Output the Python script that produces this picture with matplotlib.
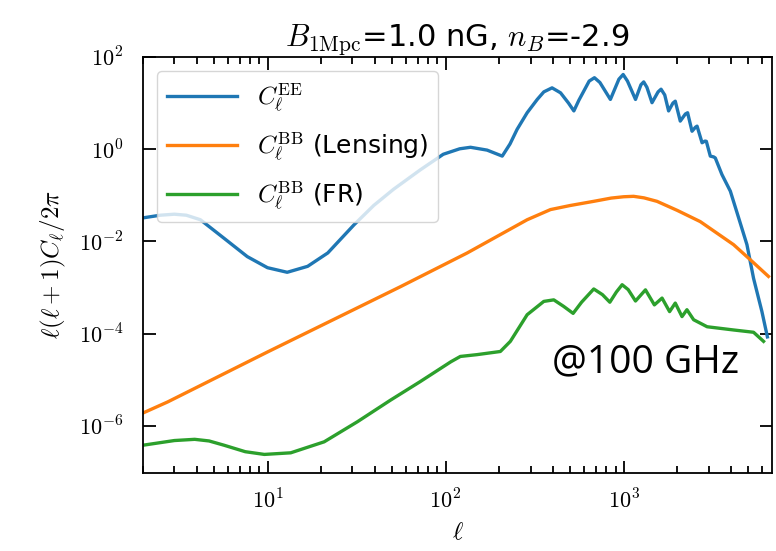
import matplotlib
matplotlib.use('Agg')
import matplotlib.pyplot as plt
import matplotlib.ticker as mticker
import numpy as np

plt.rcParams['mathtext.fontset'] = 'cm'
plt.rcParams['font.family'] = 'DejaVu Sans'

# E-mode spectrum
ell_ee = [2, 2.5, 3, 3.5, 4.2, 5.7, 7.7, 10, 12.9, 16.8, 21.8, 30.6, 39.5,
          51, 72, 97, 120, 138, 171, 208, 230, 252, 287, 327, 356, 396, 442,
          490, 525, 560, 640, 685, 735, 842, 940, 993, 1050, 1165, 1250, 1295,
          1350, 1442, 1560, 1621, 1700, 1787, 1890, 1948, 2078, 2220, 2285,
          2419, 2530, 2582, 2754, 2860, 2911, 3064, 3200, 3268, 3561, 3970,
          4420, 4920, 5360, 5970, 6410]
cl_ee = [0.0324, 0.037, 0.0389, 0.037, 0.0295, 0.0117, 0.00468, 0.00269,
         0.00214, 0.00288, 0.00562, 0.0229, 0.0603, 0.135, 0.355, 0.776,
         1.02, 1.10, 0.955, 0.708, 1.3, 2.69, 6.17, 12.0, 17.5, 21.4, 16.7,
         10.0, 6.76, 11.5, 30.0, 35.5, 28.0, 12.0, 33.0, 41.7, 30.0, 12.0,
         25.0, 28.8, 22.0, 10.2, 17.5, 20.0, 15.0, 6.76, 10.0, 11.0, 4.07,
         5.8, 6.17, 2.45, 3.0, 3.16, 1.38, 1.5, 1.48, 0.708, 0.68, 0.646,
         0.282, 0.123, 0.0324, 0.00851, 0.00158, 3.02e-4, 8.5e-5]

# lensing B-modes
ell_lens = [2, 2.75, 10, 56, 132, 287, 388, 500, 679, 850, 1000, 1137, 1300,
            1538, 2000, 2690, 4140, 5140, 6500]
cl_lens = [1.9e-6, 3.3e-6, 4.0e-5, 1.05e-3, 5.6e-3, 0.0295, 0.049, 0.060,
           0.074, 0.087, 0.093, 0.095, 0.088, 0.074, 0.047, 0.0269, 0.0085,
           0.0040, 1.74e-3]

# Faraday rotation B-modes
ell_fr = [2, 3, 3.9, 4.7, 5.7, 7.5, 9.6, 13.5, 20.8, 32, 49, 72, 107, 121,
          150, 203, 231, 287, 356, 405, 460, 520, 580, 679, 760, 836, 910,
          980, 1060, 1165, 1325, 1487, 1642, 1810, 1948, 2125, 2265, 2470,
          2940, 4140, 5360, 6100]
cl_fr = [3.8e-7, 4.8e-7, 5.1e-7, 4.7e-7, 3.8e-7, 2.75e-7, 2.4e-7, 2.6e-7,
         4.5e-7, 1.23e-6, 3.6e-6, 9.1e-6, 2.45e-5, 3.2e-5, 3.5e-5, 4.1e-5,
         6.8e-5, 2.57e-4, 5.0e-4, 5.4e-4, 3.9e-4, 2.75e-4, 4.8e-4, 9.3e-4,
         7.0e-4, 4.8e-4, 8.0e-4, 1.15e-3, 9.0e-4, 5.1e-4, 8.9e-4, 4.2e-4,
         5.9e-4, 3.0e-4, 4.6e-4, 2.34e-4, 3.3e-4, 2.0e-4, 1.41e-4, 1.2e-4,
         1.07e-4, 6.8e-5]

fig = plt.figure(figsize=(7.76, 5.51), dpi=100)
ax = fig.add_axes([0.1843, 0.1416, 0.8105, 0.755])

ax.loglog(ell_ee, cl_ee, color='#1f77b4', lw=2.4, label=r'$C_\ell^{\rm EE}$')
ax.loglog(ell_lens, cl_lens, color='#ff7f0e', lw=2.4,
          label=r'$C_\ell^{\rm BB}$ (Lensing)')
ax.loglog(ell_fr, cl_fr, color='#2ca02c', lw=2.4, label=r'$C_\ell^{\rm BB}$ (FR)')

ax.set_xlim(2, 6800)
ax.set_ylim(9.5e-8, 1e2)

ax.set_yticks([1e-6, 1e-4, 1e-2, 1e0, 1e2])
ax.yaxis.set_minor_locator(mticker.NullLocator())

# decade labels in Computer Modern
decade = mticker.FuncFormatter(lambda v, p: r'$10^{%d}$' % round(np.log10(v)))
ax.xaxis.set_major_formatter(decade)
ax.yaxis.set_major_formatter(decade)

ax.tick_params(which='both', direction='in', top=True, right=True,
               labelsize=16, width=1.3)
ax.tick_params(which='major', length=9)
ax.tick_params(which='minor', length=5)
ax.tick_params(axis='x', which='major', pad=11)
ax.tick_params(axis='y', which='major', pad=14)
for sp in ax.spines.values():
    sp.set_linewidth(1.3)

ax.set_xlabel(r'$\ell$', fontsize=18, labelpad=6)
ax.set_ylabel(r'$\ell(\ell+1)C_\ell/2\pi$', fontsize=18, labelpad=8)
ax.set_title(r'$B_{1\rm Mpc}$=1.0 nG, $n_B$=-2.9', fontsize=22)

ax.legend(loc='upper left', bbox_to_anchor=(0.0, 1.0), fontsize=18,
          handlelength=2.8, handletextpad=0.8, labelspacing=0.65,
          borderaxespad=0.55)

fig.text(0.711, 0.325, '@100 GHz', fontsize=28, family='Open Sans',
         color='black')

fig.savefig('out.png', dpi=100)
